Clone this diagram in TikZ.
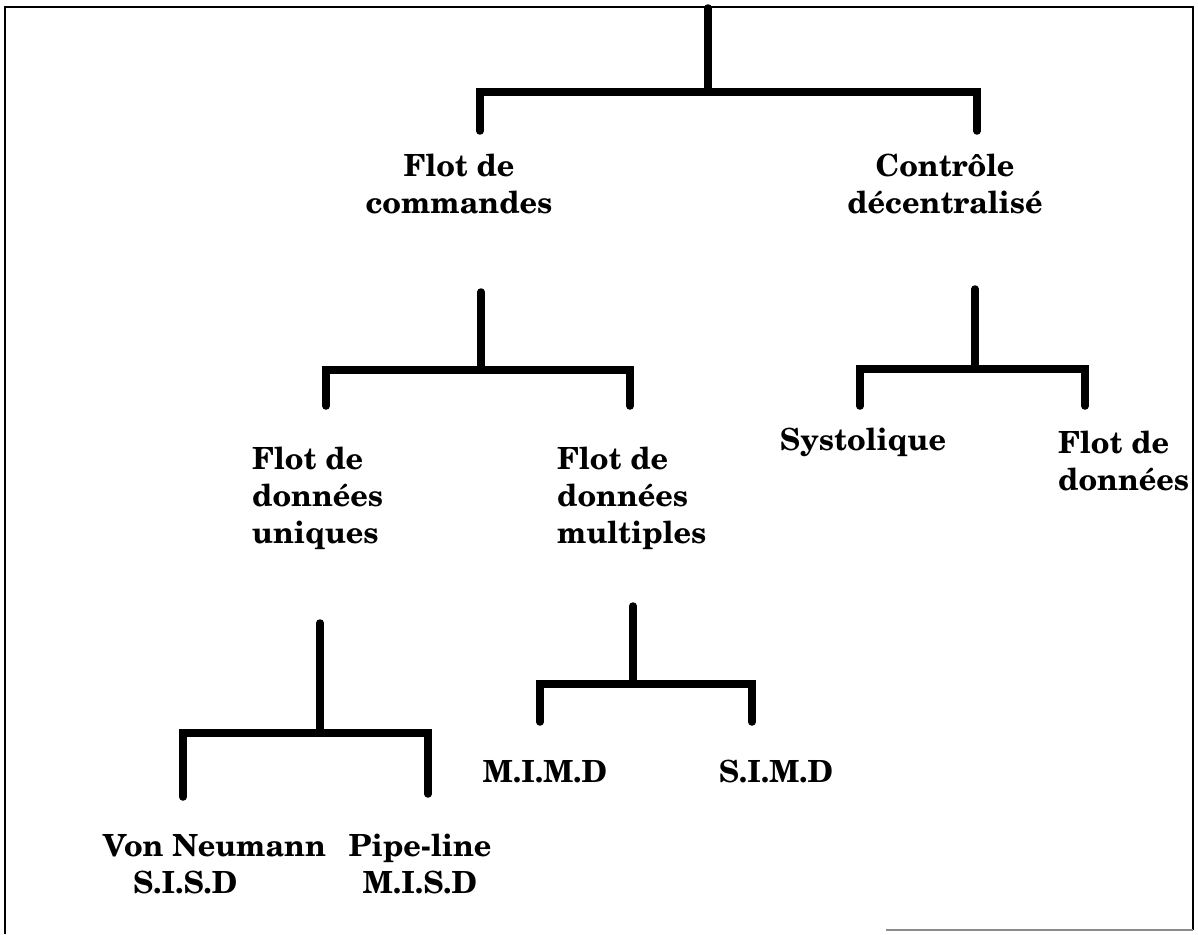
\documentclass[tikz,border=0pt]{standalone}
\usepackage[T1]{fontenc}
\usepackage{tikz}

\begin{document}
\begin{tikzpicture}[x=1pt,y=-1pt,
                    lbl/.style={inner sep=0pt,
                    font=\fontfamily{pnc}\fontseries{b}\fontsize{30.5}{37}\selectfont},
                    link/.style={line width=7.5pt,line cap=round},
                    frame/.style={line width=2.5pt}]
    \useasboundingbox (0,0) rectangle (1198,934);
    \draw[frame] (5,934) -- (5,7) -- (1193,7) -- (1193,930);
    \draw[frame,black!45] (1193,930) -- (886,930);

    % labels (anchored on the baseline of their last line)
    \node[lbl,anchor=base,align=center] (cmd) at (459,213) {Flot de\\commandes};
    \node[lbl,anchor=base,align=center] (ctl) at (945,213) {Contr\^ole\\d\'ecentralis\'e};
    \node[lbl,anchor=base west,align=left] (uniq) at (252,543) {Flot de\\donn\'ees\\uniques};
    \node[lbl,anchor=base west,align=left] (mult) at (557,543) {Flot de\\donn\'ees\\multiples};
    \node[lbl,anchor=base] (syst) at (863,450) {Systolique};
    \node[lbl,anchor=base west,align=left] (flot) at (1058,490) {Flot de\\donn\'ees};
    \node[lbl,anchor=base] (mimd) at (545,782) {M.I.M.D};
    \node[lbl,anchor=base] (simd) at (776,782) {S.I.M.D};
    \node[lbl,anchor=base west,align=left] (vn) at (103,893) {Von Neumann\\\hspace*{30pt}S.I.S.D};
    \node[lbl,anchor=base,align=center] (pipe) at (420,893) {Pipe-line\\M.I.S.D};

    % tree joints
    \coordinate (root) at (708,8);
    \coordinate (j0) at (708,92);
    \coordinate (cmd-in) at (480,131);
    \coordinate (ctl-in) at (977,131);
    \coordinate (cmd-out) at (481,292);
    \coordinate (j1) at (481,370);
    \coordinate (uniq-in) at (326,406);
    \coordinate (mult-in) at (630,406);
    \coordinate (ctl-out) at (975,289);
    \coordinate (j2) at (975,369);
    \coordinate (syst-in) at (860,406);
    \coordinate (flot-in) at (1085,406);
    \coordinate (uniq-out) at (320,623);
    \coordinate (j3) at (320,733);
    \coordinate (vn-in) at (183,797);
    \coordinate (pipe-in) at (428,794);
    \coordinate (mult-out) at (633,606);
    \coordinate (j4) at (633,684);
    \coordinate (mimd-in) at (540,722);
    \coordinate (simd-in) at (752,722);

    \foreach \s/\j/\l/\r in {root/j0/cmd-in/ctl-in, cmd-out/j1/uniq-in/mult-in,
                             ctl-out/j2/syst-in/flot-in, uniq-out/j3/vn-in/pipe-in,
                             mult-out/j4/mimd-in/simd-in}
    {
        \draw[link] (\s) -- (\j);
        \draw[link] (\l) |- (\j) -| (\r);
    }
\end{tikzpicture}
\end{document}
